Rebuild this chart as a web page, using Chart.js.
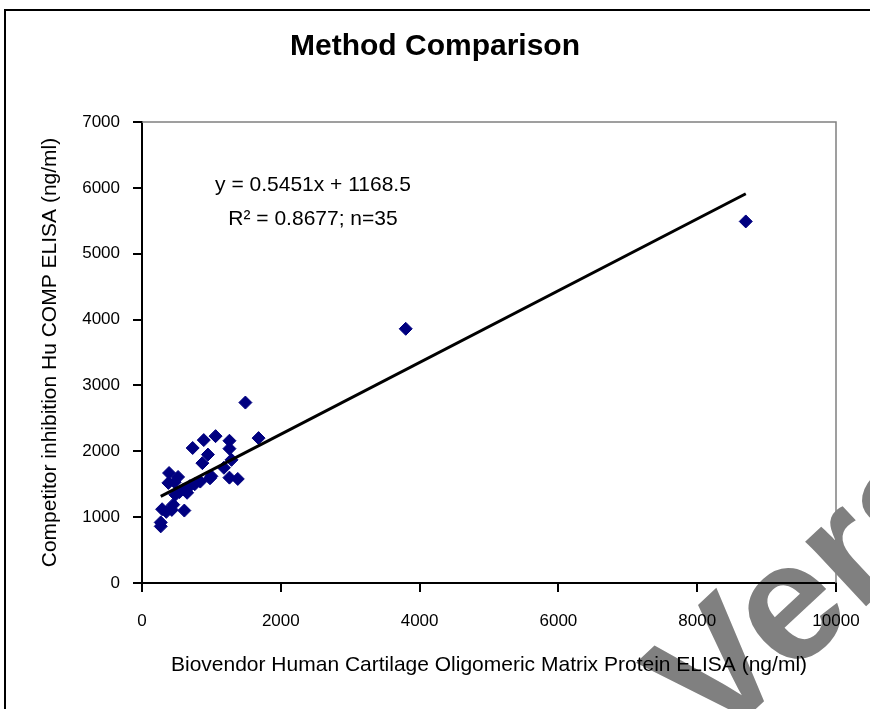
<!DOCTYPE html>
<html lang="en">
<head>
    <meta charset="UTF-8">
    <title>Method Comparison</title>
    <script src="https://cdn.jsdelivr.net/npm/chart.js"></script>
    <style>
        body { margin: 0; background: #fff; }
    </style>
</head>
<body>
    <canvas id="grafico" width="870" height="709"></canvas>
    <script>
        // valori (ng/ml)
        const biovendor = [8700, 3800, 1490, 1680, 1060, 890, 730, 1260, 1260, 950,
                           870, 1290, 1180, 390, 520, 380, 1260, 1380, 980, 840,
                           690, 600, 480, 650, 450, 290, 430, 610, 270, 270,
                           470, 760, 540, 350, 1000];
        const competitor = [5490, 3860, 2740, 2200, 2230, 2170, 2050, 2160, 2040, 1950,
                            1820, 1870, 1750, 1670, 1610, 1520, 1600, 1580, 1590, 1540,
                            1470, 1420, 1340, 1370, 1190, 1120, 1110, 1100, 920, 860,
                            1530, 1500, 1380, 1080, 1620];
        const slope = 0.5451;
        const intercept = 1168.5;
        const eqLines = ["y = 0.5451x + 1168.5", "R\u00B2 = 0.8677; n=35"];
        const xTicks = [0, 2000, 4000, 6000, 8000, 10000];
        const yTicks = [0, 1000, 2000, 3000, 4000, 5000, 6000, 7000];

        const punti = biovendor.map((x, i) => ({ x: x, y: competitor[i] }));
        const xMin = Math.min(...biovendor);
        const xMax = Math.max(...biovendor);
        const trend = [
            { x: xMin, y: slope * xMin + intercept },
            { x: xMax, y: slope * xMax + intercept }
        ];

        const FONT = "'Liberation Sans', Arial, sans-serif";

        // sfondo, cornice e filigrana
        const sfondo = {
            id: 'sfondo',
            beforeDraw(chart) {
                const c = chart.ctx;
                c.save();
                c.fillStyle = '#fff';
                c.fillRect(0, 0, chart.width, chart.height);
                c.strokeStyle = '#000';
                c.lineWidth = 2;
                c.strokeRect(5, 10, chart.width + 20, chart.height + 20);
                c.translate(714, 748);
                c.rotate(-43 * Math.PI / 180);
                c.fillStyle = '#808080';
                c.font = "bold 168px " + FONT;
                c.textBaseline = 'alphabetic';
                c.fillText('Version', 0, 0);
                c.restore();
            },
            beforeDatasetsDraw(chart) {
                const a = chart.chartArea;
                const c = chart.ctx;
                c.save();
                c.strokeStyle = '#808080';
                c.lineWidth = 1.5;
                c.beginPath();
                c.moveTo(a.left, a.top);
                c.lineTo(a.right, a.top);
                c.lineTo(a.right, a.bottom);
                c.stroke();
                c.restore();
            },
            afterDraw(chart) {
                const c = chart.ctx;
                c.save();
                c.fillStyle = '#000';
                c.font = '21px ' + FONT;
                c.textAlign = 'center';
                c.textBaseline = 'middle';
                c.fillText(eqLines[0], 313, 185);
                c.fillText(eqLines[1], 313, 219);
                c.restore();
            }
        };

        const ctx = document.getElementById('grafico').getContext('2d');
        const chart = new Chart(ctx, {
            type: 'scatter',
            data: {
                datasets: [{
                    type: 'line',
                    data: trend,
                    borderColor: '#000',
                    borderWidth: 3,
                    pointRadius: 0,
                    fill: false,
                    order: 0
                }, {
                    data: punti,
                    pointStyle: 'rectRot',
                    pointRadius: 6.5,
                    pointHoverRadius: 6.5,
                    backgroundColor: '#000080',
                    borderColor: '#000080',
                    borderWidth: 1,
                    order: 1
                }]
            },
            options: {
                responsive: false,
                animation: false,
                layout: { padding: 0 },
                plugins: {
                    legend: { display: false },
                    tooltip: { enabled: false },
                    title: {
                        display: true,
                        text: 'Method Comparison',
                        color: '#000',
                        font: { family: FONT, size: 30, weight: 'bold', lineHeight: 1.2 },
                        padding: { top: 29, bottom: 57 }
                    }
                },
                scales: {
                    x: {
                        type: 'linear',
                        min: 0,
                        max: 10000,
                        afterBuildTicks(scale) {
                            scale.ticks = xTicks.map(v => ({ value: v }));
                        },
                        afterFit(scale) {
                            scale.height = 126;
                            scale.paddingRight = 34;
                        },
                        grid: { drawOnChartArea: false, drawTicks: true, tickLength: 9, color: '#000', lineWidth: 2 },
                        border: { display: true, color: '#000', width: 2 },
                        ticks: { color: '#000', padding: 19, autoSkip: false, maxRotation: 0,
                                 callback: v => String(v),
                                 font: { family: FONT, size: 17 } },
                        title: {
                            display: true,
                            text: 'Biovendor Human Cartilage Oligomeric Matrix Protein ELISA (ng/ml)',
                            color: '#000',
                            font: { family: FONT, size: 21, lineHeight: 1.2 },
                            padding: { top: 0, bottom: 31.4 }
                        }
                    },
                    y: {
                        type: 'linear',
                        min: 0,
                        max: 7000,
                        afterBuildTicks(scale) {
                            scale.ticks = yTicks.map(v => ({ value: v }));
                        },
                        afterFit(scale) { scale.width = 142; },
                        grid: { drawOnChartArea: false, drawTicks: true, tickLength: 9, color: '#000', lineWidth: 2 },
                        border: { display: true, color: '#000', width: 2 },
                        ticks: { color: '#000', padding: 13, autoSkip: false,
                                 callback: v => String(v),
                                 font: { family: FONT, size: 17 } },
                        title: {
                            display: true,
                            text: 'Competitor inhibition Hu COMP ELISA (ng/ml)',
                            color: '#000',
                            font: { family: FONT, size: 21, lineHeight: 1.2 },
                            padding: { top: 37.4, bottom: 0 }
                        }
                    }
                }
            },
            plugins: [sfondo]
        });
    </script>
</body>
</html>
